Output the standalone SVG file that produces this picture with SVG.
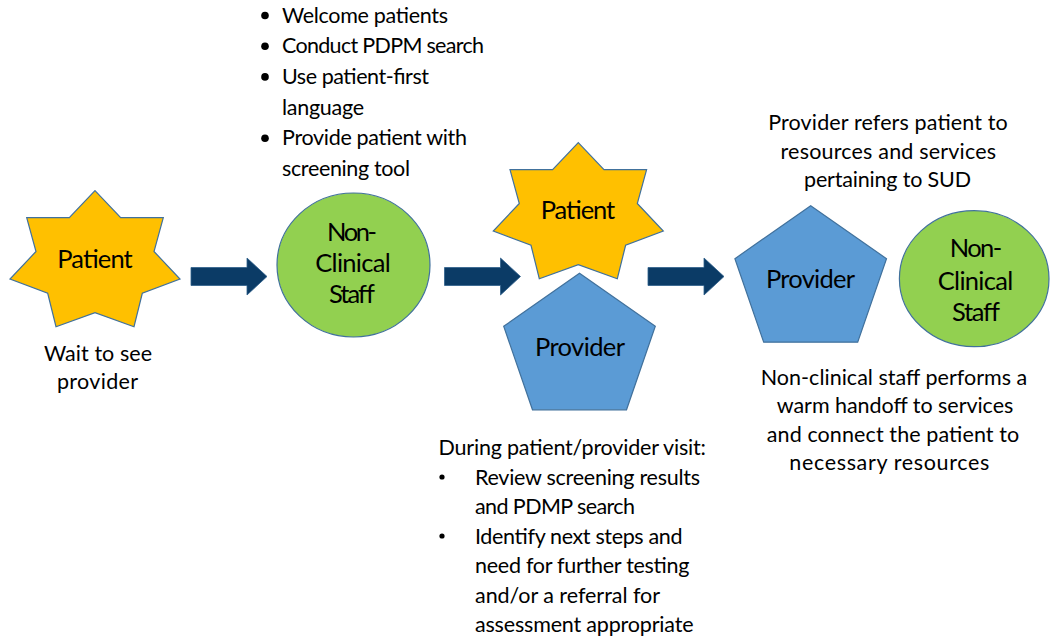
<svg xmlns="http://www.w3.org/2000/svg" width="1050" height="639" viewBox="0 0 1050 639">
  <style>
    .star { fill: #FFC000; stroke: #41719C; stroke-width: 1.2; }
    .pent { fill: #5B9BD5; stroke: #41719C; stroke-width: 1.2; }
    .oval { fill: #92D050; stroke: #41719C; stroke-width: 1.2; }
    .arrow { fill: #0B3B66; stroke: #2F5F8C; stroke-width: 0.8; }
    text { font-family: Lato, "Open Sans", sans-serif; fill: #000000; }
    .lbl { font-size: 25.5px; text-anchor: middle; }
    .body { font-size: 21.5px; }
    .bc { font-size: 21.5px; text-anchor: middle; }
  </style>
  <defs>
    <polygon id="starShape" points="0,0 25.7,27 68.3,27 59,60.8 85,88.3 47.3,102.6 39,136 0,122 -39,136 -47.3,102.6 -85,88.3 -59,60.8 -68.3,27 -25.7,27"/>
    <polygon id="pentShape" points="0,0 75.8,53 47,136.5 -47,136.5 -75.8,53"/>
    <polygon id="arrowShape" points="0,-9 56,-9 56,-18.5 76,0 56,18.5 56,9 0,9"/>
  </defs>

  <g id="connectors">
    <use href="#arrowShape" class="arrow" x="191" y="276.5"/>
    <use href="#arrowShape" class="arrow" x="444.5" y="276.5"/>
    <use href="#arrowShape" class="arrow" x="648" y="276.5"/>
  </g>

  <g id="patient1">
    <use href="#starShape" class="star" x="95" y="190.7"/>
    <text class="lbl" x="95" y="268" textLength="75.5">Patient</text>
  </g>
  <g id="patient1-note">
    <text class="bc" x="98" y="360.5" textLength="108">Wait to see</text>
    <text class="bc" x="97.5" y="388.5" textLength="81">provider</text>
  </g>

  <g id="staff1">
    <ellipse class="oval" cx="353.5" cy="265" rx="76.5" ry="72"/>
    <text class="lbl" x="352" y="241" textLength="50">Non-</text>
    <text class="lbl" x="353" y="272" textLength="75.5">Clinical</text>
    <text class="lbl" x="352" y="303" textLength="46">Staff</text>
  </g>
  <g id="staff1-list">
    <circle cx="265" cy="15.5" r="3.8"/>
    <circle cx="265" cy="46.2" r="3.8"/>
    <circle cx="265" cy="76.9" r="3.8"/>
    <circle cx="265" cy="138.3" r="3.8"/>
    <text class="body" x="282" y="22.5" textLength="166">Welcome patients</text>
    <text class="body" x="282" y="53.2" textLength="202">Conduct PDPM search</text>
    <text class="body" x="282" y="83.9" textLength="147">Use patient-first</text>
    <text class="body" x="282" y="114.6" textLength="82">language</text>
    <text class="body" x="282" y="145.3" textLength="185">Provide patient with</text>
    <text class="body" x="282" y="176" textLength="128">screening tool</text>
  </g>

  <g id="patient2">
    <use href="#starShape" class="star" x="578.3" y="142.7"/>
    <text class="lbl" x="578" y="219" textLength="74.5">Patient</text>
  </g>
  <g id="provider1">
    <use href="#pentShape" class="pent" x="579.5" y="273.3"/>
    <text class="lbl" x="580" y="356" textLength="90">Provider</text>
  </g>
  <g id="visit-notes">
    <text class="body" x="438.5" y="455" textLength="267.5">During patient/provider visit:</text>
    <circle cx="442" cy="477" r="2.6"/>
    <circle cx="442" cy="536" r="2.6"/>
    <text class="body" x="475" y="484.5" textLength="225">Review screening results</text>
    <text class="body" x="475" y="514" textLength="160">and PDMP search</text>
    <text class="body" x="475" y="543.5" textLength="207.5">Identify next steps and</text>
    <text class="body" x="475" y="573" textLength="214.5">need for further testing</text>
    <text class="body" x="475" y="602.5" textLength="185">and/or a referral for</text>
    <text class="body" x="475" y="632" textLength="218.5">assessment appropriate</text>
  </g>

  <g id="provider2">
    <use href="#pentShape" class="pent" x="810.7" y="205.7"/>
    <text class="lbl" x="810.5" y="288" textLength="89">Provider</text>
  </g>
  <g id="provider2-note">
    <text class="bc" x="888" y="130" textLength="239.5">Provider refers patient to</text>
    <text class="bc" x="888.3" y="158.5" textLength="215.5">resources and services</text>
    <text class="bc" x="887.5" y="187" textLength="167">pertaining to SUD</text>
  </g>

  <g id="staff2">
    <ellipse class="oval" cx="974.2" cy="278.7" rx="74.8" ry="68"/>
    <text class="lbl" x="976" y="257" textLength="52.5">Non-</text>
    <text class="lbl" x="975.5" y="289.5" textLength="75.5">Clinical</text>
    <text class="lbl" x="976" y="321" textLength="48">Staff</text>
  </g>
  <g id="staff2-note">
    <text class="bc" x="894" y="384.5" textLength="266.5">Non-clinical staff performs a</text>
    <text class="bc" x="895" y="413" textLength="236.5">warm handoff to services</text>
    <text class="bc" x="893" y="441.5" textLength="252.5">and connect the patient to</text>
    <text class="bc" x="889.3" y="470" textLength="200">necessary resources</text>
  </g>
</svg>
